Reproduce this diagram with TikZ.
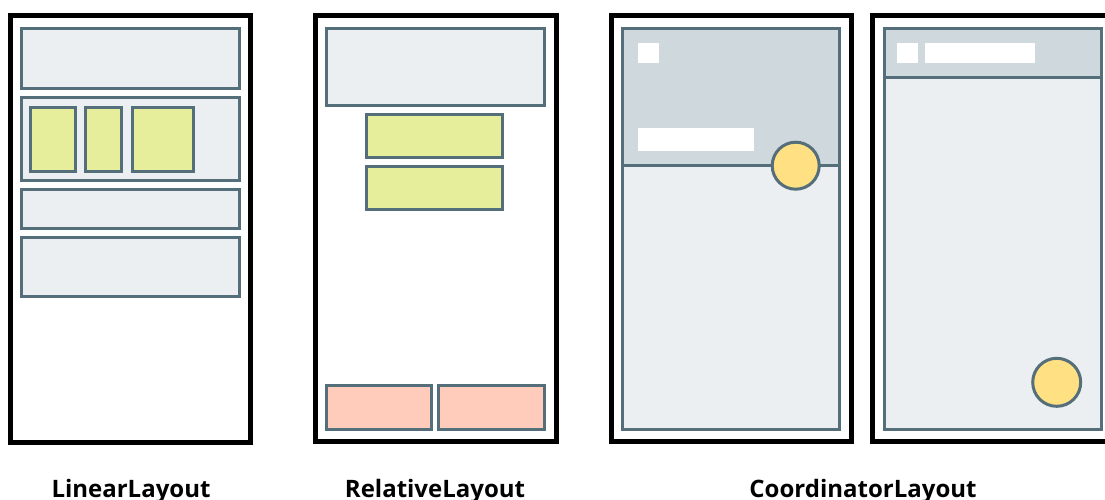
\documentclass[tikz,border=0pt]{standalone}
\usepackage{fontspec}
\setmainfont{Open Sans}
\definecolor{edge}{HTML}{546E7A}
\definecolor{paneFill}{HTML}{ECEFF1}
\definecolor{barFill}{HTML}{CFD8DC}
\definecolor{limeFill}{HTML}{E6EE9C}
\definecolor{peachFill}{HTML}{FFCCBC}
\definecolor{fabFill}{HTML}{FFE082}
\tikzset{
  phone/.style={draw=black, line width=5pt, fill=white},
  pane/.style={draw=edge, line width=3pt, fill=paneFill},
  bar/.style={draw=edge, line width=3pt, fill=barFill},
  lime/.style={draw=edge, line width=3pt, fill=limeFill},
  peach/.style={draw=edge, line width=3pt, fill=peachFill},
  fab/.style={draw=edge, line width=3pt, fill=fabFill},
  blank/.style={fill=white},
  caption/.style={font=\bfseries\fontsize{24}{28}\selectfont, anchor=base, inner sep=0pt}
}
\begin{document}
\begin{tikzpicture}[x=1pt,y=-1pt]
\useasboundingbox (0,0) rectangle (1105,499);
\clip (0,0) rectangle (1105,499);

% LinearLayout
\draw[phone] (10,15) rectangle (250.5,442);
\draw[pane] (21.7,28.3) rectangle (239.3,88.3);
\draw[pane] (21.7,97.3) rectangle (239.3,180);
\draw[lime] (30.3,107.7) rectangle (75,171.7);
\draw[lime] (85.7,107.7) rectangle (121.7,171.7);
\draw[lime] (132.3,107.7) rectangle (193,171.7);
\draw[pane] (21.7,189) rectangle (239.3,228.5);
\draw[pane] (21.7,237.5) rectangle (239.3,296);
\node[caption] (linear) at (131,497) {LinearLayout};

% RelativeLayout
\draw[phone] (315,15) rectangle (556.5,441.5);
\draw[pane] (326,28.3) rectangle (544,105);
\draw[lime] (366,114.5) rectangle (502.5,157);
\draw[lime] (366,166.5) rectangle (502.5,209);
\draw[peach] (326,385) rectangle (431.7,429);
\draw[peach] (438.3,385) rectangle (544,429);
\node[caption] (relative) at (435,497) {RelativeLayout};

% CoordinatorLayout, expanded toolbar
\draw[phone] (611,15) rectangle (851.5,441.5);
\draw[pane] (622.3,165) rectangle (839.3,429);
\draw[bar] (622.3,28.3) rectangle (839.3,165);
\fill[blank] (637.7,42.7) rectangle (659,62.7);
\fill[blank] (637.7,127.7) rectangle (754,150.7);
\draw[fab] (795.7,165.7) circle (23.5);

% CoordinatorLayout, collapsed toolbar
\draw[phone] (872.5,15) rectangle (1112,441.5);
\draw[pane] (884,77.7) rectangle (1101.7,429);
\draw[bar] (884,28.3) rectangle (1101.7,77.7);
\fill[blank] (896.7,42.7) rectangle (917.7,62.7);
\fill[blank] (925,42.7) rectangle (1035,62.7);
\draw[fab] (1056.7,382.3) circle (24);
\node[caption] (coordinator) at (863,497) {CoordinatorLayout};
\end{tikzpicture}
\end{document}
